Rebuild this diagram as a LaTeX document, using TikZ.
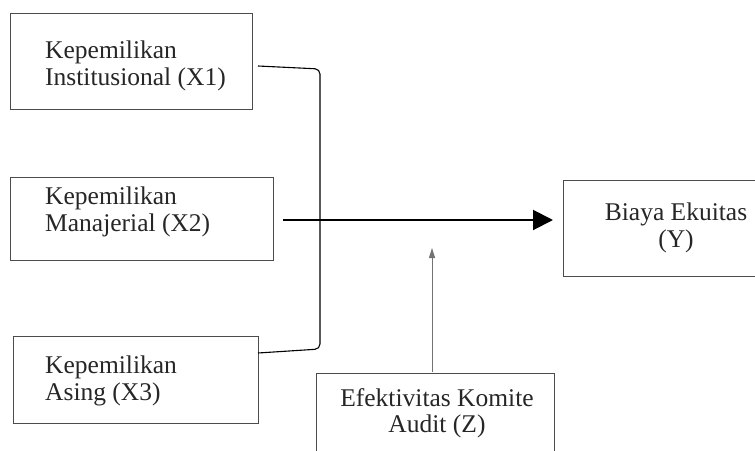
\documentclass[tikz,border=0pt]{standalone}
\usepackage{fontspec}
\setmainfont{Liberation Serif}
\usetikzlibrary{arrows.meta}
\begin{document}
\begin{tikzpicture}[x=1pt,y=-1pt,
  boxnode/.style={draw=black!70, line width=1.1pt, rectangle, inner sep=0pt, anchor=north west},
  txt/.style={inner sep=0pt, font=\fontsize{25.5}{26.5}\selectfont, text=black!85},
  bracketline/.style={line width=1.1pt, rounded corners=5pt},
  mainarrow/.style={line width=2pt, -{Triangle[length=20pt,width=20pt]}},
  modarrow/.style={draw=black!55, line width=1pt, -{Triangle[length=10pt,width=6pt]}}]
\useasboundingbox (0,0) rectangle (755,450);
% boxes
\node[boxnode, minimum width=242pt, minimum height=96pt] (x1) at (10,13) {};
\node[boxnode, minimum width=263pt, minimum height=83pt] (x2) at (10,177) {};
\node[boxnode, minimum width=245pt, minimum height=87pt] (x3) at (13,336) {};
\node[boxnode, minimum width=200pt, minimum height=96pt] (y) at (563,180) {};
\node[boxnode, minimum width=238pt, minimum height=100pt] (z) at (316,373) {};
% texts
\node[txt, anchor=west, align=left] (x1t) at (45,66) {Kepemilikan\\Institusional (X1)};
\node[txt, anchor=west, align=left] (x2t) at (45,212) {Kepemilikan\\Manajerial (X2)};
\node[txt, anchor=west, align=left] (x3t) at (45,381) {Kepemilikan\\Asing (X3)};
\node[txt, align=center] (yt) at (676,228) {Biaya Ekuitas\\(Y)};
\node[txt, align=center] (zt) at (437,413) {Efektivitas Komite\\Audit (Z)};
% connectors
\coordinate (b1) at (258,66);
\coordinate (b3) at (258,353);
\coordinate (bx) at (320,69);
\coordinate (by) at (320,349);
\draw[bracketline] (b1) -- (bx) -- (by) -- (b3);
\coordinate (hs) at (283,220);
\coordinate (he) at (553,220);
\draw[mainarrow] (hs) -- (he);
\coordinate (vs) at (432,372);
\coordinate (ve) at (432,248);
\draw[modarrow] (vs) -- (ve);
\end{tikzpicture}
\end{document}
